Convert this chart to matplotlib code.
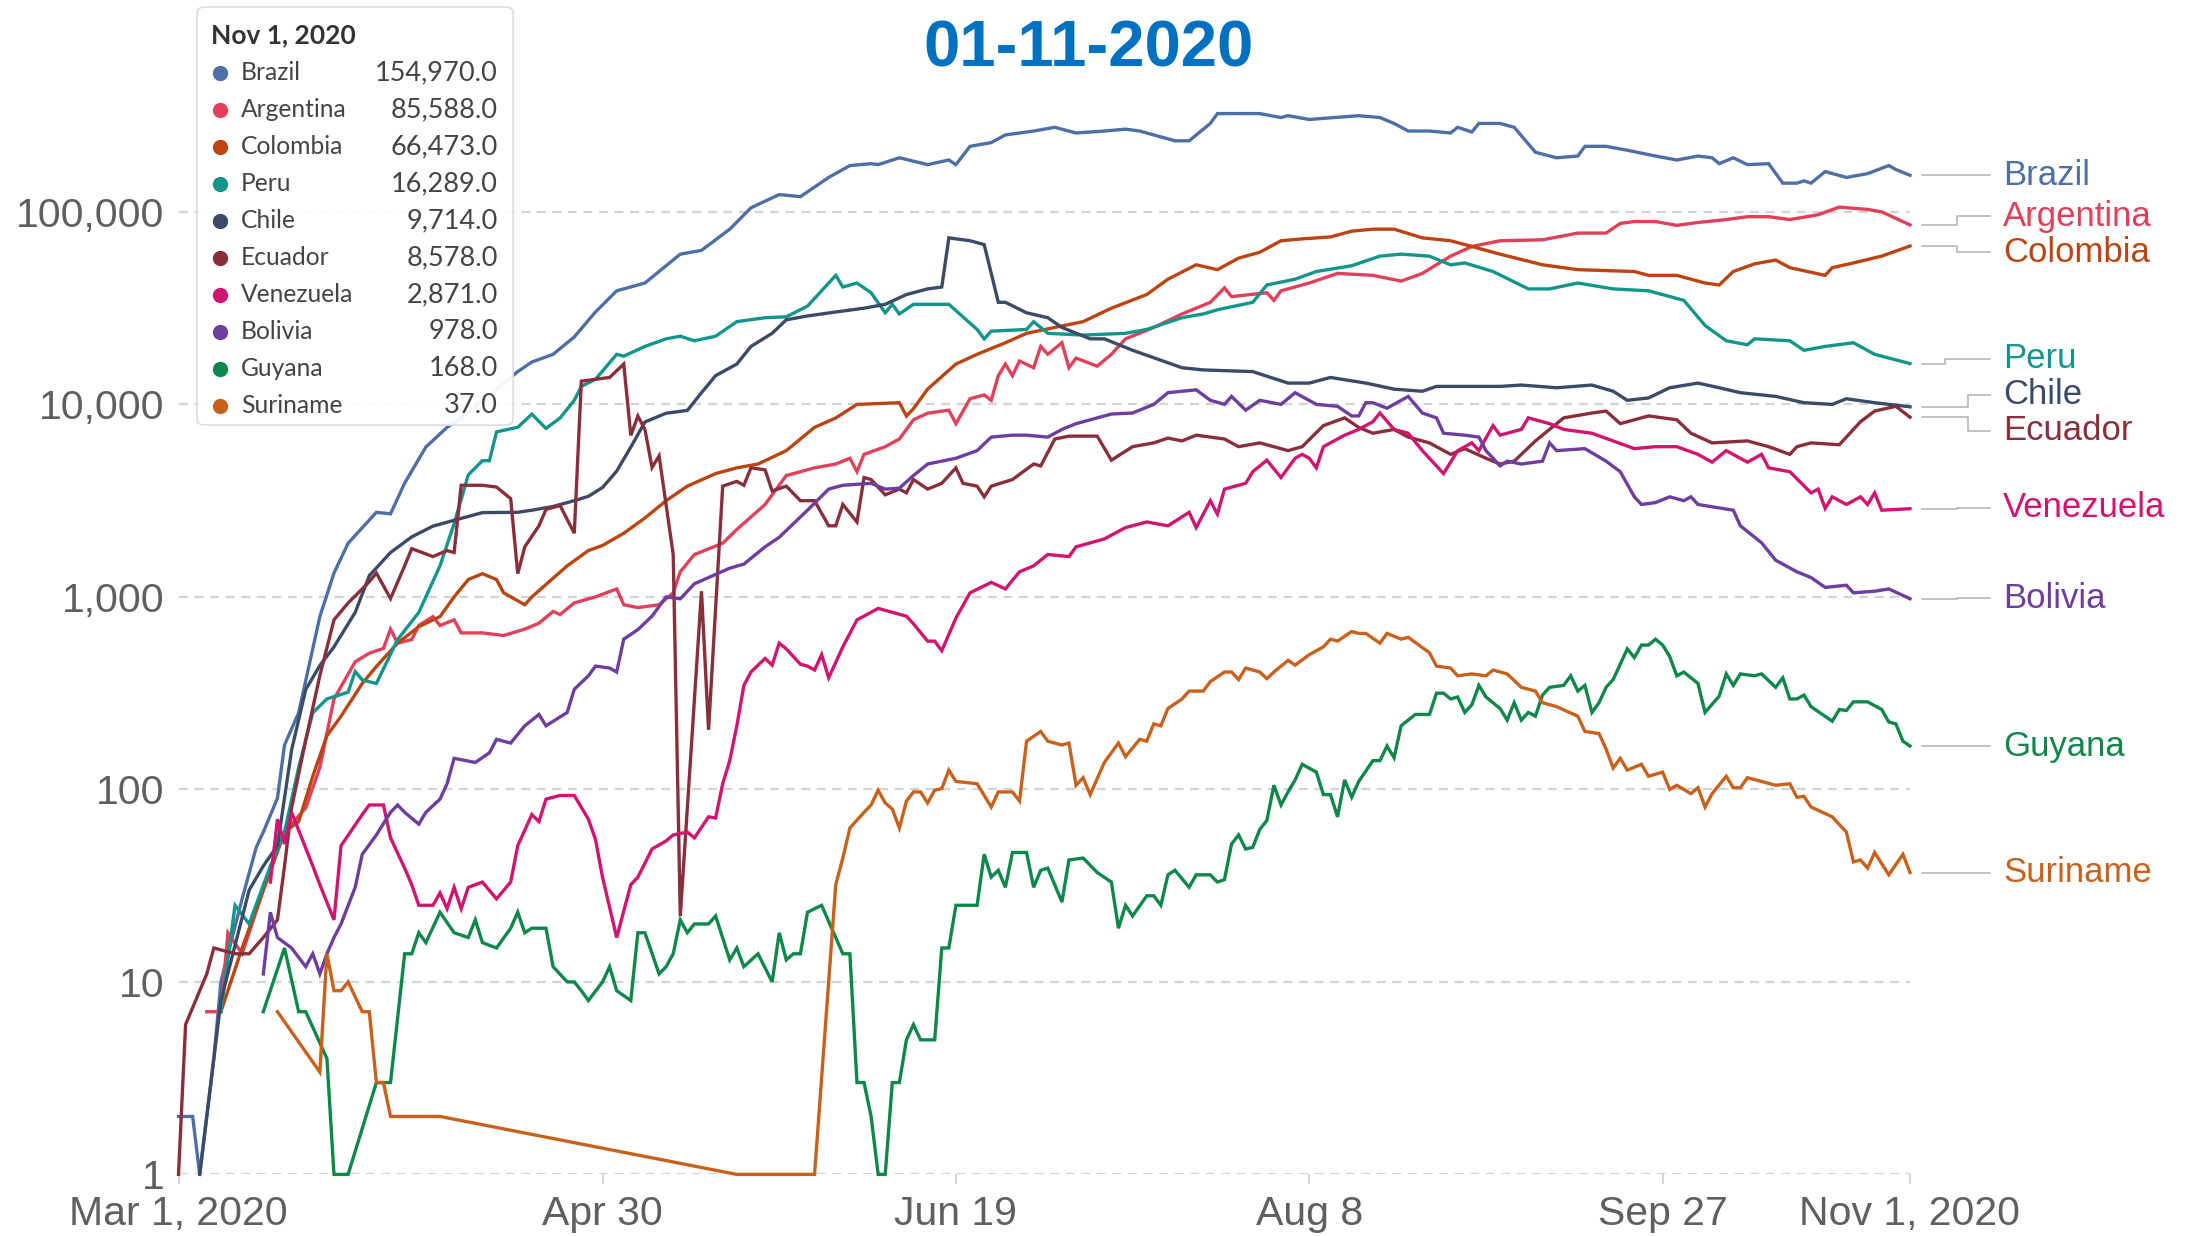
import numpy as np
import matplotlib.pyplot as plt
import matplotlib.transforms as mtransforms
from matplotlib.lines import Line2D
from matplotlib.patches import FancyBboxPatch
from matplotlib.ticker import FixedLocator, NullLocator

plt.rcParams['font.family'] = ['Liberation Sans', 'DejaVu Sans']

# active cases; days counted from Mar 1, 2020
start_date = np.datetime64('2020-03-01')

brazil_days = [0, 2, 3, 4, 5, 6, 7, 9, 11, 12, 14, 15, 17, 20, 22, 24, 28, 30, 32, 35, 38, 40, 44, 48, 50, 53, 56, 59, 62, 66,
               71, 74, 78, 81, 85, 88, 92, 95, 98, 99, 102, 106, 109, 110, 112, 115, 117, 121, 124, 127, 131, 134, 136, 138,
               141, 143, 146, 147, 153, 156, 157, 160, 167, 170, 172, 174, 177, 180, 181, 183, 184, 187, 189, 192, 195, 198,
               199, 202, 205, 209, 212, 215, 217, 218, 220, 222, 225, 227, 229, 230, 231, 233, 236, 239, 242, 243, 245]
brazil_vals = [2, 2, 1, 2, 4, 10, 14, 27, 50, 60, 90, 170, 250, 790, 1330, 1900, 2750, 2700, 3900, 6000, 7600, 8500, 11200,
               14800, 16600, 18200, 22400, 30200, 38900, 42700, 60300, 63100, 81300, 105000, 123000, 120000, 151000, 174000,
               178000, 176000, 191000, 176000, 186000, 176000, 219000, 229000, 251000, 263000, 275000, 257000, 263000, 269000,
               263000, 251000, 234000, 234000, 288000, 324000, 324000, 309000, 316000, 302000, 316000, 309000, 288000, 263000,
               263000, 257000, 275000, 260000, 288000, 288000, 275000, 204000, 191000, 195000, 219000, 219000, 209000, 195000,
               186000, 195000, 191000, 178000, 191000, 176000, 178000, 141000, 141000, 145000, 141000, 162000, 151000, 158000,
               174000, 166000, 154970]

chile_days = [3, 6, 10, 12, 14, 16, 18, 20, 22, 25, 27, 30, 33, 36, 39, 43, 48, 50, 53, 56, 58, 60, 62, 64, 66, 69, 72, 74,
              76, 79, 81, 84, 86, 89, 93, 97, 100, 103, 106, 108, 109, 112, 114, 116, 117, 120, 123, 125, 129, 131, 135, 142,
              145, 152, 157, 160, 163, 168, 172, 176, 178, 187, 190, 195, 200, 203, 205, 208, 211, 215, 218, 221, 226, 230,
              234, 236, 240, 245]
chile_vals = [1, 8, 30, 40, 51, 160, 330, 440, 550, 830, 1290, 1700, 2050, 2330, 2500, 2740, 2750, 2820, 2950, 3160, 3330,
              3700, 4500, 6000, 8100, 9000, 9300, 11500, 14100, 16200, 20000, 23400, 27500, 28800, 30200, 31600, 33100, 37200,
              39800, 40700, 73300, 70800, 67600, 33900, 33900, 29900, 28200, 25100, 21900, 21900, 19100, 15500, 15100, 14800,
              12900, 12900, 13800, 12900, 12000, 11700, 12400, 12400, 12600, 12200, 12600, 11700, 10500, 10800, 12200, 12900,
              12200, 11500, 11000, 10200, 10000, 10700, 10200, 9714]

peru_days = [6, 8, 10, 13, 15, 17, 19, 21, 24, 25, 26, 28, 31, 34, 37, 39, 41, 43, 44, 45, 48, 50, 52, 54, 56, 57, 59, 62, 63,
             66, 69, 71, 73, 76, 79, 83, 86, 89, 93, 94, 96, 98, 100, 101, 102, 104, 109, 113, 114, 115, 120, 121, 123, 128,
             134, 137, 142, 145, 147, 152, 154, 158, 161, 166, 170, 173, 177, 180, 182, 186, 191, 194, 198, 203, 208, 213,
             216, 219, 222, 223, 228, 230, 233, 237, 240, 245]
peru_vals = [7, 25, 20, 40, 60, 130, 250, 295, 320, 410, 370, 355, 600, 830, 1450, 2400, 4300, 5100, 5100, 7200, 7600, 8900,
             7500, 8500, 10500, 12400, 13500, 18200, 17800, 20000, 21900, 22600, 21400, 22600, 26900, 28200, 28500, 32400,
             46800, 40700, 42700, 38000, 29900, 33100, 29500, 33100, 33100, 24500, 21900, 24000, 24500, 26900, 23400, 22900,
             23400, 24500, 28200, 29500, 31000, 33900, 41700, 44700, 49000, 52500, 58900, 60300, 58900, 53100, 54300, 49000,
             39800, 39800, 42700, 39800, 38900, 34700, 25700, 21400, 20400, 21900, 21400, 19100, 20000, 20900, 18200, 16289]

colombia_days = [6, 9, 12, 15, 17, 19, 21, 23, 26, 28, 31, 34, 37, 39, 41, 43, 45, 46, 49, 50, 52, 55, 58, 60, 63, 66, 69,
                 72, 76, 79, 82, 86, 90, 93, 96, 102, 103, 104, 106, 110, 113, 117, 120, 124, 128, 132, 137, 140, 144, 147,
                 150, 153, 156, 159, 163, 166, 169, 172, 176, 180, 183, 187, 193, 198, 206, 208, 212, 216, 218, 220, 223,
                 226, 228, 233, 234, 237, 241, 245]
colombia_vals = [7, 15, 30, 60, 68, 117, 190, 240, 355, 435, 575, 700, 790, 1000, 1230, 1320, 1230, 1050, 910, 1000, 1160,
                 1450, 1740, 1850, 2140, 2570, 3160, 3760, 4370, 4680, 4900, 5750, 7600, 8500, 10000, 10200, 8700, 9500,
                 12000, 16200, 18200, 20900, 23400, 25100, 26900, 31600, 37200, 44700, 53100, 50100, 57500, 61700, 70800,
                 72400, 74100, 79400, 81300, 81300, 73300, 70800, 66100, 60300, 53100, 50100, 49000, 46800, 46800, 42700,
                 41700, 49000, 53700, 56200, 51300, 46800, 51300, 54300, 58900, 66473]

argentina_days = [4, 6, 7, 9, 12, 15, 18, 20, 22, 25, 27, 29, 30, 31, 33, 34, 36, 37, 39, 40, 43, 46, 49, 51, 53, 54, 56,
                  59, 62, 63, 65, 68, 70, 71, 73, 77, 79, 83, 86, 90, 93, 95, 96, 97, 100, 102, 103, 104, 106, 109, 110,
                  112, 114, 115, 116, 117, 118, 119, 121, 122, 123, 125, 126, 127, 130, 132, 134, 138, 142, 146, 148, 149,
                  154, 155, 156, 160, 164, 169, 173, 176, 180, 183, 187, 193, 198, 202, 204, 206, 209, 212, 215, 219, 222,
                  225, 228, 232, 235, 239, 241, 245]
argentina_vals = [7, 7, 18, 14, 30, 60, 80, 130, 295, 460, 510, 540, 680, 575, 600, 710, 790, 710, 760, 650, 650, 630, 680,
                  730, 840, 810, 930, 1000, 1100, 910, 880, 910, 1050, 1350, 1660, 1900, 2240, 3020, 4270, 4680, 4900,
                  5250, 4470, 5500, 6030, 6610, 7410, 8320, 9000, 9330, 7940, 10700, 11200, 10500, 14100, 16200, 14100,
                  16800, 15500, 20000, 18200, 20900, 15500, 17400, 15800, 18200, 21900, 25100, 29500, 33900, 40300, 36300,
                  38000, 34700, 38900, 42700, 47900, 46800, 43700, 47900, 58900, 66100, 70800, 71600, 77600, 77600, 87100,
                  89100, 89100, 85100, 88100, 91200, 94400, 94400, 91200, 96600, 105900, 103000, 100000, 85588]

ecuador_days = [0, 1, 4, 5, 8, 10, 12, 14, 15, 16, 18, 20, 22, 24, 26, 27, 28, 30, 32, 33, 36, 38, 39, 40, 43, 45, 47, 48,
                49, 51, 52, 54, 56, 57, 61, 63, 64, 65, 66, 67, 68, 70, 71, 74, 75, 77, 79, 80, 81, 83, 84, 86, 88, 90, 92,
                93, 94, 96, 97, 98, 100, 102, 103, 104, 106, 108, 110, 111, 113, 114, 115, 118, 121, 122, 124, 126, 130,
                132, 135, 138, 140, 142, 144, 148, 150, 153, 157, 159, 162, 165, 167, 169, 172, 174, 177, 180, 182, 185,
                187, 189, 192, 196, 200, 202, 204, 208, 212, 214, 217, 222, 225, 228, 229, 231, 235, 238, 240, 243, 245]
ecuador_vals = [1, 6, 11, 15, 14, 14, 17, 21, 40, 80, 180, 390, 760, 930, 1100, 1200, 1330, 980, 1450, 1780, 1620, 1740,
                1700, 3800, 3800, 3720, 3240, 1320, 1820, 2340, 2850, 2980, 2140, 13200, 13800, 16200, 6900, 8700, 7400,
                4700, 5400, 1660, 22, 1070, 204, 3760, 3980, 3800, 4680, 4570, 3550, 3760, 3160, 3160, 2340, 2340, 3020,
                2450, 4170, 4070, 3390, 3630, 3470, 4070, 3630, 3890, 4680, 3890, 3760, 3310, 3760, 4070, 4900, 4790, 6610,
                6840, 6840, 5130, 6030, 6310, 6680, 6460, 6920, 6610, 6030, 6310, 5750, 6030, 7760, 8510, 7590, 7080, 7410,
                6760, 6310, 5500, 5890, 5250, 4900, 5070, 6460, 8510, 9020, 9230, 7940, 8710, 8320, 7080, 6310, 6460, 6030,
                5500, 6030, 6310, 6170, 8130, 9230, 9770, 8578]

venezuela_days = [13, 14, 15, 16, 19, 20, 22, 23, 26, 27, 29, 30, 32, 33, 34, 36, 37, 38, 39, 40, 41, 43, 45, 47, 48, 50,
                  51, 52, 54, 56, 58, 59, 60, 62, 64, 65, 67, 69, 70, 72, 73, 75, 76, 77, 78, 79, 80, 81, 83, 84, 85, 86,
                  88, 89, 90, 91, 92, 94, 96, 99, 101, 103, 104, 106, 107, 108, 110, 112, 115, 117, 119, 121, 123, 126,
                  127, 131, 134, 137, 140, 143, 144, 146, 147, 148, 151, 152, 154, 156, 158, 159, 160, 161, 162, 165, 167,
                  169, 170, 172, 174, 176, 179, 181, 183, 184, 186, 187, 190, 191, 194, 196, 200, 203, 206, 209, 212, 215,
                  217, 219, 222, 224, 225, 228, 231, 232, 233, 234, 236, 238, 239, 240, 241, 245]
venezuela_vals = [33, 70, 52, 76, 40, 32, 21, 51, 74, 83, 83, 56, 39, 32, 25, 25, 29, 24, 31, 24, 31, 33, 27, 33, 51, 74,
                  68, 89, 93, 93, 70, 55, 35, 17, 32, 35, 49, 54, 58, 60, 56, 72, 71, 107, 141, 214, 347, 407, 479, 442,
                  575, 537, 447, 437, 417, 501, 380, 550, 759, 871, 832, 794, 724, 589, 589, 525, 776, 1050, 1190, 1100,
                  1350, 1450, 1660, 1620, 1820, 2000, 2290, 2450, 2340, 2750, 2290, 3160, 2690, 3630, 3890, 4470, 5130,
                  4170, 5250, 5500, 5250, 4680, 6030, 6920, 7410, 8130, 9020, 7410, 7080, 5750, 4370, 5750, 6310, 5750,
                  7760, 6920, 7410, 8510, 7940, 7410, 7080, 6460, 5890, 6030, 6030, 5500, 5010, 5750, 5010, 5500, 4680,
                  4470, 3470, 3630, 2880, 3310, 3020, 3310, 3020, 3470, 2820, 2871]

bolivia_days = [12, 13, 14, 16, 18, 19, 20, 21, 22, 23, 25, 26, 28, 30, 31, 32, 34, 35, 37, 38, 39, 42, 44, 45, 47, 49, 51,
                52, 55, 56, 58, 59, 61, 62, 63, 65, 67, 69, 71, 73, 75, 78, 80, 83, 85, 89, 92, 94, 98, 100, 102, 104, 106,
                110, 113, 115, 118, 120, 123, 125, 127, 130, 132, 135, 138, 140, 144, 146, 148, 149, 151, 153, 156, 158,
                161, 164, 166, 167, 168, 169, 171, 174, 176, 178, 179, 182, 184, 185, 187, 188, 190, 193, 194, 195, 199,
                202, 204, 206, 207, 209, 211, 213, 214, 215, 220, 221, 224, 226, 229, 231, 233, 236, 237, 240, 242, 245]
bolivia_vals = [11, 23, 17, 15, 12, 14, 11, 14, 17, 20, 31, 46, 58, 76, 83, 76, 66, 76, 89, 107, 145, 138, 155, 182, 174,
                214, 245, 214, 251, 331, 389, 437, 427, 407, 603, 676, 794, 1000, 977, 1170, 1260, 1410, 1480, 1820, 2040,
                2820, 3630, 3800, 3890, 3630, 3670, 4270, 4900, 5250, 5750, 6760, 6920, 6920, 6760, 7410, 7940, 8510, 8910,
                9020, 10000, 11500, 11900, 10500, 10000, 11000, 9330, 10500, 10000, 11500, 10000, 9770, 8710, 8710, 10200,
                10200, 9550, 11000, 9020, 8510, 7080, 6920, 6760, 5750, 4790, 5070, 4900, 5070, 6310, 5750, 5890, 5070,
                4470, 3310, 3020, 3090, 3310, 3160, 3310, 3020, 2820, 2340, 1910, 1550, 1350, 1260, 1120, 1150, 1050, 1070,
                1100, 978]

guyana_days = [12, 15, 17, 18, 21, 22, 24, 28, 30, 32, 33, 34, 35, 37, 39, 41, 42, 43, 45, 47, 48, 49, 50, 52, 53, 55, 56,
               57, 58, 60, 61, 62, 64, 65, 66, 68, 69, 70, 71, 72, 73, 75, 76, 78, 79, 80, 82, 84, 85, 86, 87, 88, 89, 91,
               93, 94, 95, 96, 97, 98, 99, 100, 101, 102, 103, 104, 105, 107, 108, 109, 110, 113, 114, 115, 116, 117, 118,
               120, 121, 122, 123, 125, 126, 128, 130, 132, 133, 134, 135, 137, 138, 139, 140, 141, 143, 144, 146, 147,
               148, 149, 150, 151, 152, 153, 154, 155, 156, 157, 158, 159, 161, 162, 163, 164, 165, 166, 167, 169, 170,
               171, 172, 173, 175, 177, 178, 179, 180, 181, 182, 183, 184, 185, 187, 188, 189, 190, 191, 192, 193, 194,
               196, 197, 198, 199, 200, 201, 202, 203, 205, 206, 207, 208, 209, 210, 211, 212, 213, 215, 216, 218, 219,
               220, 221, 223, 224, 226, 227, 228, 229, 230, 231, 234, 235, 236, 237, 239, 241, 242, 243, 244, 245]
guyana_vals = [7, 15, 7, 7, 4, 1, 1, 3, 3, 14, 14, 18, 16, 23, 18, 17, 21, 16, 15, 19, 23, 18, 19, 19, 12, 10, 10, 9, 8,
               10, 12, 9, 8, 18, 18, 11, 12, 14, 21, 18, 20, 20, 22, 13, 15, 12, 14, 10, 18, 13, 14, 14, 23, 25, 17, 14,
               14, 3, 3, 2, 1, 1, 3, 3, 5, 6, 5, 5, 15, 15, 25, 25, 46, 35, 38, 31, 47, 47, 31, 38, 39, 26, 43, 44, 37,
               33, 19, 25, 22, 28, 28, 25, 36, 38, 31, 36, 36, 33, 34, 52, 58, 49, 50, 62, 69, 105, 83, 97, 112, 135, 123,
               94, 94, 72, 112, 91, 110, 141, 141, 168, 146, 214, 245, 245, 316, 316, 295, 302, 251, 275, 347, 302, 263,
               229, 282, 229, 251, 240, 309, 339, 347, 389, 324, 347, 251, 282, 339, 372, 537, 484, 562, 562, 603, 562,
               490, 389, 407, 355, 251, 305, 398, 347, 398, 389, 398, 339, 380, 295, 295, 309, 269, 226, 260, 257, 285,
               285, 260, 224, 219, 178, 168]

suriname_days = [14, 20, 21, 22, 23, 24, 26, 27, 28, 29, 30, 37, 79, 90, 93, 94, 95, 97, 98, 99, 100, 101, 102, 103, 104,
                 105, 106, 107, 108, 109, 110, 113, 115, 116, 118, 119, 120, 122, 123, 125, 126, 127, 128, 129, 131, 132,
                 133, 134, 136, 137, 138, 139, 140, 142, 143, 145, 146, 148, 149, 150, 151, 153, 154, 155, 157, 158, 160,
                 162, 163, 164, 166, 167, 168, 170, 171, 173, 174, 177, 178, 180, 181, 183, 185, 186, 188, 190, 192, 193,
                 195, 198, 199, 201, 202, 203, 204, 205, 207, 208, 210, 211, 212, 214, 215, 216, 217, 219, 220, 221, 222,
                 224, 226, 228, 229, 230, 231, 234, 236, 237, 238, 239, 240, 242, 244, 245]
suriname_vals = [7, 3.4, 14, 9, 9, 10, 7, 7, 3, 3, 2, 2, 1, 1, 32, 44, 63, 76, 83, 99, 85, 79, 63, 87, 97, 97, 85, 99, 101,
                 126, 110, 107, 81, 97, 97, 87, 178, 200, 178, 170, 174, 105, 115, 94, 138, 155, 174, 148, 182, 178, 219,
                 214, 263, 295, 324, 324, 363, 407, 407, 372, 427, 407, 376, 407, 468, 442, 501, 550, 603, 589, 661, 646,
                 646, 575, 646, 603, 617, 513, 437, 427, 389, 398, 389, 417, 398, 339, 324, 282, 269, 240, 200, 195, 162,
                 129, 145, 126, 135, 117, 123, 100, 105, 95, 102, 81, 95, 117, 102, 102, 115, 110, 105, 107, 91, 92, 81,
                 72, 60, 42, 43, 39, 47, 36, 46, 37]

countries = ['Brazil', 'Argentina', 'Colombia', 'Peru', 'Chile', 'Ecuador', 'Venezuela', 'Bolivia', 'Guyana', 'Suriname']
latest_values = [154970.0, 85588.0, 66473.0, 16289.0, 9714.0, 8578.0, 2871.0, 978.0, 168.0, 37.0]

tick_dates = ['2020-03-01', '2020-04-30', '2020-06-19', '2020-08-08', '2020-09-27', '2020-11-01']
tick_labels = ['Mar 1, 2020', 'Apr 30', 'Jun 19', 'Aug 8', 'Sep 27', 'Nov 1, 2020']
y_ticks = [1, 10, 100, 1000, 10000, 100000]
y_tick_labels = ['1', '10', '100', '1,000', '10,000', '100,000']

series = {
    'Brazil': (brazil_days, brazil_vals),
    'Argentina': (argentina_days, argentina_vals),
    'Colombia': (colombia_days, colombia_vals),
    'Peru': (peru_days, peru_vals),
    'Chile': (chile_days, chile_vals),
    'Ecuador': (ecuador_days, ecuador_vals),
    'Venezuela': (venezuela_days, venezuela_vals),
    'Bolivia': (bolivia_days, bolivia_vals),
    'Guyana': (guyana_days, guyana_vals),
    'Suriname': (suriname_days, suriname_vals),
}

colors = {
    'Brazil': '#4e6ea6', 'Argentina': '#e2405a', 'Colombia': '#bb4410', 'Peru': '#12958a',
    'Chile': '#3b4a66', 'Ecuador': '#8a2e3c', 'Venezuela': '#d3146e', 'Bolivia': '#6d3d9f',
    'Guyana': '#0e874a', 'Suriname': '#c9611d',
}

# where the right-hand name labels sit (data units) and the elbow of their leader line (axes fraction)
label_y = {'Brazil': 154970, 'Argentina': 95000, 'Colombia': 61700, 'Peru': 17300, 'Chile': 11200,
           'Ecuador': 7280, 'Venezuela': 2910, 'Bolivia': 984, 'Guyana': 168, 'Suriname': 37}
elbow_x = {'Argentina': 1.0272, 'Colombia': 1.0272, 'Peru': 1.0202, 'Chile': 1.0335, 'Ecuador': 1.0335}

fig = plt.figure(figsize=(21.87, 12.36), dpi=100)
ax = fig.add_axes([0.08162, 0.04984, 0.79172, 0.89555])

for name in countries:
    days, vals = series[name]
    x = start_date + np.array(days).astype('timedelta64[D]')
    ax.plot(x, vals, color=colors[name], lw=2.4, clip_on=False, solid_joinstyle='miter')

ax.set_yscale('log')
ax.set_ylim(1, 10 ** 5.75)
ax.set_xlim(np.datetime64('2020-03-01'), np.datetime64('2020-11-01'))

ax.yaxis.set_major_locator(FixedLocator(y_ticks))
ax.yaxis.set_minor_locator(NullLocator())
ax.set_yticklabels(y_tick_labels)
ax.set_xticks(np.array(tick_dates, dtype='datetime64[D]'))
ax.set_xticklabels(tick_labels)

for s in ax.spines.values():
    s.set_visible(False)
ax.set_axisbelow(True)
ax.yaxis.grid(True, color='#d3d3d3', lw=1.6, linestyle=(0, (4, 3)))
ax.tick_params(axis='y', length=0, pad=10, labelsize=29.5, labelcolor='#5f5f5f')
ax.tick_params(axis='x', length=7, width=1.2, color='#cccccc', pad=8, labelsize=29.5, labelcolor='#5f5f5f')

# leader lines and end labels on the right
blend = mtransforms.blended_transform_factory(ax.transAxes, ax.transData)
for name, last in zip(countries, latest_values):
    ly = label_y[name]
    ex = elbow_x.get(name, 1.0272)
    ax.plot([1.0069, ex, ex, 1.0462], [last, last, ly, ly], transform=blend,
            color='#b0b0b0', lw=1.1, clip_on=False)
    ax.text(1.0537, ly, name, transform=blend, color=colors[name], fontsize=25,
            va='center', ha='left', clip_on=False)

# title (only the date line is visible)
fig.text(0.4975, 0.96, '01-11-2020', color='#0070c0', fontsize=47, fontweight='bold',
         ha='center', va='center')

# tooltip-style legend box
box = FancyBboxPatch((0.0901, 0.6561), 0.1445, 0.3382, boxstyle='round,pad=0,rounding_size=0.004',
                     transform=fig.transFigure, facecolor=(1, 1, 1, 0.93), edgecolor='#dddddd', lw=1.2)
fig.add_artist(box)
fig.text(0.0965, 0.9712, 'Nov 1, 2020', family=['Lato', 'DejaVu Sans'], fontweight='bold',
         fontsize=19, color='#333333', ha='left', va='center')
row_y0 = 1 - 72.5 / 1236
row_step = 37.03 / 1236
for i, (name, val) in enumerate(zip(countries, latest_values)):
    y = row_y0 - i * row_step
    fig.add_artist(Line2D([0.1006], [y], marker='o', ms=10, color=colors[name], transform=fig.transFigure))
    fig.text(0.1102, y, name, family=['Lato', 'DejaVu Sans'], fontsize=17.7, color='#444444',
             ha='left', va='center')
    fig.text(0.2277, y, f'{val:,.1f}', family=['Lato', 'DejaVu Sans'], fontsize=19.5, color='#444444',
             ha='right', va='center')

fig.savefig('out.png', dpi=100)
